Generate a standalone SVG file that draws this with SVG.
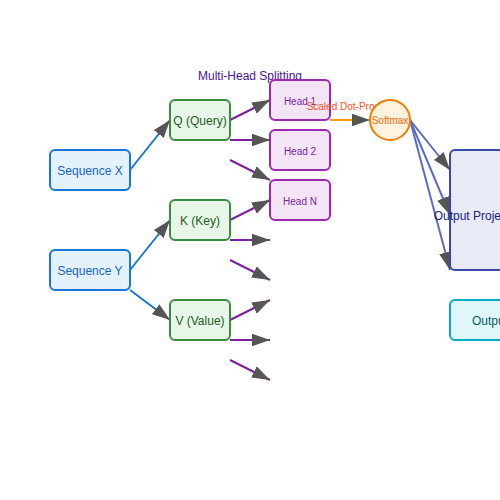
<svg xmlns="http://www.w3.org/2000/svg" width="500" height="500" viewBox="0 0 500 500">
<style>
text{font-family:"Liberation Sans",Arial,sans-serif;text-anchor:middle}
.seq rect{fill:#e3f2fd;stroke:#1976d2;stroke-width:2}
.seq text{fill:#1565c0;font-size:12px}
.qkv rect{fill:#e8f5e9;stroke:#388e3c;stroke-width:2}
.qkv text{fill:#1b5e20;font-size:12px}
.head rect{fill:#f3e5f5;stroke:#9c27b0;stroke-width:2}
.head text{fill:#7b1fa2;font-size:10px}
.proj rect{fill:#e8eaf6;stroke:#3949ab;stroke-width:2}
.proj text{fill:#1a237e;font-size:12px}
.out rect{fill:#e0f7fa;stroke:#00acc1;stroke-width:2}
.out text{fill:#006064;font-size:12px}
.edge{fill:none;stroke-width:2;marker-end:url(#arr)}
.blue{stroke:#1976d2}
.purple{stroke:#7b1fa2}
.orange{stroke:#ff9800}
.indigo{stroke:#5c6bc0}
</style>
<defs>
<marker id="arr" viewBox="0 0 10 7" markerWidth="9" markerHeight="6.3" refX="10" refY="3.5" orient="auto">
<polygon points="0 0,10 3.5,0 7" fill="#555"/>
</marker>
</defs>
<rect width="500" height="500" fill="#fff"/>
<text x="250" y="80" font-size="12" fill="#4a148c">Multi-Head Splitting</text>
<g id="connectors">
<line class="edge blue" x1="130" y1="170" x2="170" y2="120"/>
<line class="edge blue" x1="130" y1="270" x2="170" y2="220"/>
<line class="edge blue" x1="130" y1="290" x2="170" y2="320"/>
<line class="edge purple" x1="230" y1="120" x2="270" y2="100"/>
<line class="edge purple" x1="230" y1="140" x2="270" y2="140"/>
<line class="edge purple" x1="230" y1="160" x2="270" y2="180"/>
<line class="edge purple" x1="230" y1="220" x2="270" y2="200"/>
<line class="edge purple" x1="230" y1="240" x2="270" y2="240"/>
<line class="edge purple" x1="230" y1="260" x2="270" y2="280"/>
<line class="edge purple" x1="230" y1="320" x2="270" y2="300"/>
<line class="edge purple" x1="230" y1="340" x2="270" y2="340"/>
<line class="edge purple" x1="230" y1="360" x2="270" y2="380"/>
<line class="edge orange" x1="330" y1="120" x2="370" y2="120"/>
<line class="edge indigo" x1="410" y1="120" x2="450" y2="170"/>
<line class="edge indigo" x1="410" y1="120" x2="450" y2="215"/>
<line class="edge indigo" x1="410" y1="120" x2="450" y2="270"/>
</g>
<g id="seq-x" class="seq"><rect x="50" y="150" width="80" height="40" rx="5"/><text x="90" y="175">Sequence X</text></g>
<g id="seq-y" class="seq"><rect x="50" y="250" width="80" height="40" rx="5"/><text x="90" y="275">Sequence Y</text></g>
<g id="q" class="qkv"><rect x="170" y="100" width="60" height="40" rx="5"/><text x="200" y="125">Q (Query)</text></g>
<g id="k" class="qkv"><rect x="170" y="200" width="60" height="40" rx="5"/><text x="200" y="225">K (Key)</text></g>
<g id="v" class="qkv"><rect x="170" y="300" width="60" height="40" rx="5"/><text x="200" y="325">V (Value)</text></g>
<g id="head1" class="head"><rect x="270" y="80" width="60" height="40" rx="5"/><text x="300" y="105">Head 1</text></g>
<g id="head2" class="head"><rect x="270" y="130" width="60" height="40" rx="5"/><text x="300" y="155">Head 2</text></g>
<g id="headN" class="head"><rect x="270" y="180" width="60" height="40" rx="5"/><text x="300" y="205">Head N</text></g>
<g id="proj" class="proj"><rect x="450" y="150" width="60" height="120" rx="5"/><text x="480" y="220">Output Projection</text></g>
<g id="output" class="out"><rect x="450" y="300" width="80" height="40" rx="5"/><text x="490" y="325">Output</text></g>
<text x="350" y="110" font-size="10" fill="#f4511e">Scaled Dot-Product</text>
<g id="softmax"><circle cx="390" cy="120" r="20" fill="#fff3e0" stroke="#f57c00" stroke-width="2"/><text x="390" y="124" font-size="10" fill="#ef6c00">Softmax</text></g>
</svg>
